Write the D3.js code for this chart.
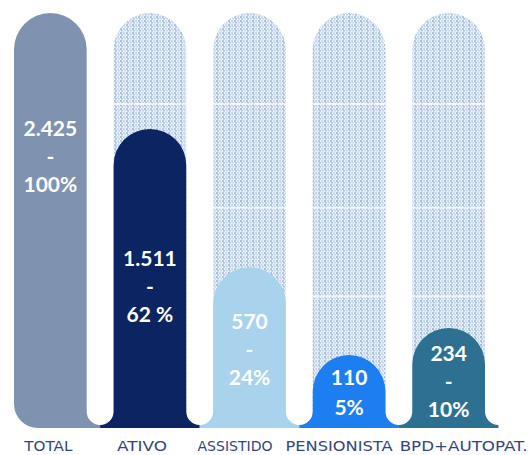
<!DOCTYPE html>
<html>
<head>
<meta charset="utf-8">
<script src="https://cdn.jsdelivr.net/npm/d3@7"></script>
<style>
  html, body { margin: 0; padding: 0; background: #ffffff; }
  svg { display: block; }
</style>
</head>
<body>
<svg id="chart" width="528" height="455"></svg>
<script>
// Participantes por categoria
const categories = ["TOTAL", "ATIVO", "ASSISTIDO", "PENSIONISTA", "BPD+AUTOPAT."];
const values = [2425, 1511, 570, 110, 234];
const pctLabels = ["100%", "62 %", "24%", "5%", "10%"];
const showDash = [true, true, true, false, true];
const gridValues = [400, 950, 1700];

const colors = ["#7f93b0", "#0c2461", "#a9d3ec", "#1d7ef2", "#2e7091"];

// layout
const W = 528, H = 455;
const base = 425;      // where the bottom fillets finish
const baseB = 428;     // bottom edge of the coloured shapes
const topY = 13;
const labelNudge = [-62, 10, 4, 3, 5];
const catNudge = [-2, -8, -14.5, -10, 15];
const catWidth = [48, 50, 75, 107, 128];

const svg = d3.select("#chart");

const x = d3.scaleBand()
  .domain(categories)
  .range([14, 485])
  .paddingInner(0.27)
  .paddingOuter(0);

const bw = x.bandwidth();
const r = bw / 2;
const gap = x.step() - bw;
const rf = gap / 2;

const y = d3.scalePow()
  .exponent(0.78)
  .domain([0, values[0]])
  .range([base - r, topY]);

const fmt = d3.formatLocale({ decimal: ",", thousands: ".", grouping: [3], currency: ["R$", ""] }).format(",d");

// dotted fill for the empty columns
const defs = svg.append("defs");
const pat = defs.append("pattern")
  .attr("id", "dots")
  .attr("patternUnits", "userSpaceOnUse")
  .attr("width", 12).attr("height", 4);
pat.append("rect").attr("width", 12).attr("height", 4).attr("fill", "#edf2f8");
const dotShades = ["#a6bfde", "#c6d5ea", "#b0c7e2", "#cfdcee"];
dotShades.forEach((c, i) => {
  pat.append("rect").attr("x", i * 3).attr("y", 0).attr("width", 2).attr("height", 2).attr("fill", c);
  pat.append("rect").attr("x", i * 3 + 1).attr("y", 2).attr("width", 2).attr("height", 1.5).attr("fill", dotShades[(i + 2) % 4]);
});

// background columns (all categories except the total)
const bgData = categories.slice(1);
function capRect(x0, top, bottom) {
  const p = d3.path();
  p.moveTo(x0, bottom);
  p.lineTo(x0, top + r);
  p.arc(x0 + r, top + r, r, Math.PI, 2 * Math.PI, false);
  p.lineTo(x0 + bw, bottom);
  p.closePath();
  return p.toString();
}
svg.append("g").selectAll("path")
  .data(bgData)
  .join("path")
  .attr("d", d => capRect(x(d), y(values[0]), base))
  .attr("fill", "url(#dots)");

// faint white gridlines across the empty columns
const gridG = svg.append("g");
bgData.forEach(c => {
  gridG.selectAll(null)
    .data(gridValues)
    .join("line")
    .attr("x1", x(c)).attr("x2", x(c) + bw)
    .attr("y1", d => y(d)).attr("y2", d => y(d))
    .attr("stroke", "#ffffff")
    .attr("stroke-width", 2)
    .attr("opacity", 0.7);
});

// coloured bars: rounded top, flared bottom
function barPath(i) {
  const x0 = x(categories[i]);
  const x1 = x0 + bw;
  const top = y(values[i]);
  const p = d3.path();
  if (i === 0) {
    const rc = 24;
    p.moveTo(x0 + rc, baseB);
    p.arc(x0 + rc, baseB - rc, rc, Math.PI / 2, Math.PI, false);
  } else {
    p.moveTo(x0 - rf, baseB);
    p.lineTo(x0 - rf, base);
    p.arc(x0 - rf, base - rf, rf, Math.PI / 2, 0, true);
  }
  p.lineTo(x0, top + r);
  p.arc(x0 + r, top + r, r, Math.PI, 2 * Math.PI, false);
  p.lineTo(x1, base - rf);
  p.arc(x1 + rf, base - rf, rf, Math.PI, Math.PI / 2, true);
  p.lineTo(x1 + rf, baseB);
  p.closePath();
  return p.toString();
}

svg.append("g").selectAll("path")
  .data(values)
  .join("path")
  .attr("d", (d, i) => barPath(i))
  .attr("fill", (d, i) => colors[i]);

// value labels inside the bars
const lab = svg.append("g")
  .attr("font-family", "Lato, 'Open Sans', sans-serif")
  .attr("font-weight", 700)
  .attr("font-size", 21)
  .attr("fill", "#ffffff")
  .attr("text-anchor", "middle");

values.forEach((v, i) => {
  const cx = x(categories[i]) + bw / 2;
  const cy = (y(v) + base) / 2 + labelNudge[i];
  const lines = showDash[i] ? [fmt(v), "-", pctLabels[i]] : [fmt(v), pctLabels[i]];
  const step = showDash[i] ? 28 : 30;
  const off = (lines.length - 1) / 2;
  lines.forEach((t, k) => {
    lab.append("text")
      .attr("x", cx)
      .attr("y", cy + (k - off) * step)
      .attr("dy", "0.35em")
      .text(t);
  });
});

// category names below the bars
svg.append("g")
  .selectAll("text")
  .data(categories)
  .join("text")
  .attr("x", (d, i) => x(d) + bw / 2 + catNudge[i])
  .attr("y", 451)
  .attr("text-anchor", "middle")
  .attr("font-family", "'DejaVu Sans', sans-serif")
  .attr("font-size", 14.5)
  .attr("fill", "#34467e")
  .attr("textLength", (d, i) => catWidth[i])
  .attr("lengthAdjust", "spacingAndGlyphs")
  .text(d => d);
</script>
</body>
</html>
